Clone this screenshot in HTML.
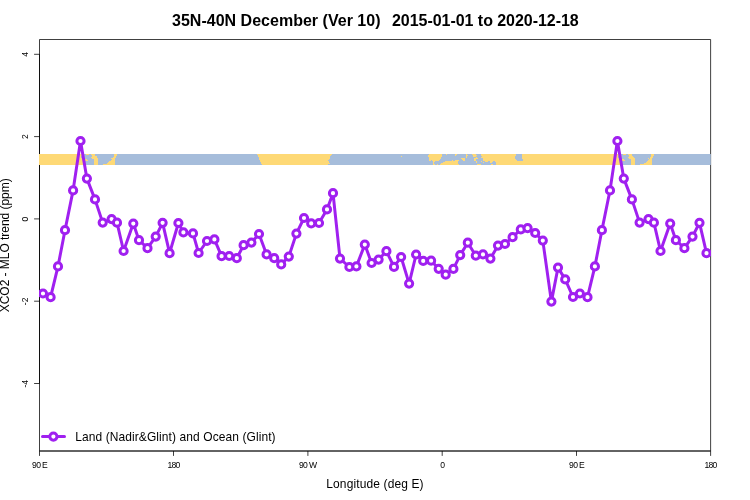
<!DOCTYPE html>
<html lang="en"><head><meta charset="utf-8"><title>35N-40N December (Ver 10)</title>
<style>html,body{margin:0;padding:0;background:#fff;overflow:hidden}svg{display:block}svg{will-change:transform}text{font-family:"Liberation Sans",Arial,Helvetica,sans-serif;fill:#000}</style></head><body>
<svg width="750" height="500" viewBox="0 0 750 500">
<defs><clipPath id="plt"><rect x="39" y="39" width="672" height="412.5"/></clipPath></defs>
<rect width="750" height="500" fill="#fff"/>
<text y="26" font-size="16" font-weight="bold" xml:space="preserve"><tspan x="172" style="letter-spacing:0.016px">35N-40N December (Ver 10)</tspan><tspan x="378.6" font-size="15.5">   </tspan><tspan x="392" style="letter-spacing:-0.041px">2015-01-01 to 2020-12-18</tspan></text>
<text transform="translate(375,487.8) scale(1,1.07)" text-anchor="middle" font-size="12" style="letter-spacing:0.129px">Longitude (deg E)</text>
<text transform="translate(8.8,245.3) rotate(-90) scale(1,1.07)" text-anchor="middle" font-size="12" style="letter-spacing:-0.027px">XCO2 - MLO trend (ppm)</text>
<g stroke="#000" stroke-width="0.75" fill="none">
<path d="M39.5 39.5H710.62V451H39.5Z"/>
<path d="M39.5 451H710.62"/>
<path d="M39.50 451V455.9"/>
<path d="M173.50 451V455.9"/>
<path d="M307.90 451V455.9"/>
<path d="M442.20 451V455.9"/>
<path d="M576.50 451V455.9"/>
<path d="M710.62 451V455.9"/>
<path d="M39.5 383.50V54.30"/>
<path d="M34.1 54.30H39.5"/>
<path d="M34.1 136.60H39.5"/>
<path d="M34.1 218.90H39.5"/>
<path d="M34.1 301.20H39.5"/>
<path d="M34.1 383.50H39.5"/>
</g>
<text x="32.00" y="468.4" font-size="8.6" style="letter-spacing:-0.65px">90 E</text>
<text x="167.50" y="468.4" font-size="8.6" style="letter-spacing:-0.78px">180</text>
<text x="298.90" y="468.4" font-size="8.6" style="letter-spacing:-0.65px">90 W</text>
<text x="440.20" y="468.4" font-size="8.6">0</text>
<text x="569.00" y="468.4" font-size="8.6" style="letter-spacing:-0.65px">90 E</text>
<text x="704.62" y="468.4" font-size="8.6" style="letter-spacing:-0.78px">180</text>
<text transform="translate(28,54.30) rotate(-90)" x="-2.5" font-size="8.6">4</text>
<text transform="translate(28,136.60) rotate(-90)" x="-2.5" font-size="8.6">2</text>
<text transform="translate(28,218.90) rotate(-90)" x="-2.5" font-size="8.6">0</text>
<text transform="translate(28,301.20) rotate(-90)" x="-4.0" font-size="8.6">-2</text>
<text transform="translate(28,383.50) rotate(-90)" x="-4.0" font-size="8.6">-4</text>
<g shape-rendering="crispEdges">
<rect x="39" y="154" width="671.8" height="11" fill="#A6BDDB" shape-rendering="auto"/>
<g fill="#FED976"><polygon points="86.0,154.0 88.9,154.0 88.9,154.9 86.0,154.9"/><polygon points="91.1,154.0 95.1,154.0 95.1,155.2 96.1,156.0 97.2,157.3 98.0,158.7 98.0,165.0 94.0,165.0 94.0,158.7 91.9,158.7 91.9,157.6 91.1,157.6 91.1,156.8 91.9,156.8 91.9,154.9 91.1,154.9"/><polygon points="83.6,158.7 86.5,158.9 87.9,160.0 87.9,161.1 84.1,161.1"/><rect x="114" y="154" width="3" height="1"/><rect x="114" y="155" width="3" height="1"/><rect x="114" y="156" width="2" height="1"/><rect x="113" y="157" width="3" height="1"/><rect x="111" y="158" width="4" height="1"/><rect x="112" y="159" width="3" height="1"/><rect x="111" y="160" width="4" height="1"/><rect x="109" y="161" width="6" height="1"/><rect x="108" y="162" width="7" height="1"/><rect x="107" y="163" width="8" height="1"/><rect x="103" y="164" width="12" height="1"/><polygon points="622.9,154.0 625.8,154.0 625.8,154.9 622.9,154.9"/><polygon points="627.9,154.0 631.9,154.0 631.9,155.2 633.0,156.0 634.1,157.3 634.9,158.7 634.9,165.0 630.9,165.0 630.9,158.7 628.7,158.7 628.7,157.6 627.9,157.6 627.9,156.8 628.7,156.8 628.7,154.9 627.9,154.9"/><polygon points="620.5,158.7 623.4,158.9 624.7,160.0 624.7,161.1 621.0,161.1"/><rect x="651" y="154" width="3" height="1"/><rect x="651" y="155" width="3" height="1"/><rect x="651" y="156" width="2" height="1"/><rect x="650" y="157" width="3" height="1"/><rect x="648" y="158" width="1" height="1"/><rect x="650" y="158" width="2" height="1"/><rect x="649" y="159" width="3" height="1"/><rect x="648" y="160" width="4" height="1"/><rect x="647" y="161" width="5" height="1"/><rect x="646" y="162" width="6" height="1"/><rect x="644" y="163" width="8" height="1"/><rect x="640" y="164" width="12" height="1"/><polygon points="39,154 83,154 84.8,165 39,165"/><polygon points="256.9,154.0 258.0,155.2 258.0,156.8 258.8,157.3 259.1,160.0 259.9,160.5 260.1,162.1 260.9,162.7 261.2,164.0 262.0,165.0 328.1,165.0 328.1,164.0 330.0,163.7 330.0,162.9 328.9,162.7 328.9,161.3 328.1,160.8 328.1,160.0 329.2,158.9 330.0,157.9 330.3,156.0 331.1,154.9 332.1,154.0"/><rect x="401" y="155.8" width="1" height="1"/><polygon points="428.8,154.0 442.1,154.0 442.1,156.9 441.2,156.9 441.2,158.9 440.2,158.9 440.2,159.9 439.2,159.9 439.2,160.9 435.2,161.1 434.1,162.1 434.1,163.5 435.2,164.0 435.2,165.0 433.1,165.0 433.1,161.3 432.0,160.8 431.5,160.0 430.9,160.8 429.1,160.8 428.8,157.1 428.0,156.5 428.0,155.2 428.8,154.9"/><rect x="437" y="164" width="1" height="1"/><polygon points="440.0,165.0 441.1,163.5 442.9,162.9 443.7,161.9 444.8,161.6 445.3,161.0 451.7,160.8 452.0,160.0 453.1,160.0 453.3,160.8 454.7,160.5 455.5,160.0 458.7,160.0 458.9,160.8 458.1,161.3 458.1,163.5 458.9,164.3 458.9,165.0"/><polygon points="445.9,154.0 446.9,154.0 446.9,154.9 445.9,154.9"/><polygon points="455.0,154.0 457.1,154.0 457.1,154.7 456.1,155.2 455.5,156.0 455.0,156.0"/><polygon points="454.7,160.0 459.0,160.0 459.0,161.1 458.2,161.6 458.2,163.7 459.0,164.0 459.0,165.0 454.7,165.0"/><polygon points="460.9,158.0 465.1,158.0 465.1,160.8 463.0,160.8 463.0,160.0 461.9,159.2 460.9,158.7"/><polygon points="465.9,154.0 467.0,154.0 467.0,154.9 468.1,155.2 468.1,156.0 467.0,156.3 467.0,157.9 465.9,157.9"/><polygon points="472.1,154.0 476.1,154.0 476.1,154.9 476.9,155.2 476.9,156.0 476.1,156.3 475.8,156.9 473.1,156.9 473.1,155.2 472.1,154.7"/><polygon points="474.2,158.1 476.1,158.0 476.3,157.1 477.1,157.6 477.9,158.3 477.1,159.2 476.1,159.7 475.3,160.8 474.2,160.8"/><polygon points="476.1,161.1 477.0,161.1 477.0,162.9 476.1,162.9"/><polygon points="477.1,164.0 480.9,164.0 480.9,165.0 477.1,165.0"/><polygon points="480.9,154.0 480.9,155.7 482.2,156.0 481.9,156.8 480.9,157.1 480.9,157.6 481.9,157.9 482.7,158.7 483.0,160.8 484.9,161.1 485.1,161.9 487.5,161.9 488.1,161.1 489.7,161.1 490.2,162.9 492.3,162.7 493.1,161.3 490.0,163.2 492.1,162.9 492.9,161.3 494.8,161.1 495.1,162.1 495.9,162.4 495.9,165.0 621.6,165.0 619.9,154.0"/><polygon points="480.9,161.1 481.9,161.1 481.9,162.1 480.9,162.1"/><polygon points="483.0,161.9 484.1,161.9 484.1,162.9 483.0,162.9"/><polygon points="491.0,164.0 492.9,164.0 492.9,165.0 491.0,165.0"/></g>
<g fill="#A6BDDB"><polygon points="516.1,154.0 522.0,154.0 522.0,158.7 522.8,159.2 522.8,160.8 517.2,160.8 516.9,160.0 516.1,159.2 515.3,158.7 515.1,156.5 516.1,156.0"/><rect x="81.4" y="156" width="0.9" height="1.6"/><rect x="618.2" y="156" width="0.9" height="1.6"/></g>
</g>
<g clip-path="url(#plt)">
<polyline fill="none" stroke="#A020F0" stroke-width="3" stroke-linejoin="round" stroke-linecap="round" points="43.0,293.5 50.6,297.2 58.0,266.4 65.0,230.2 73.1,190.4 80.5,141.0 86.9,178.6 95.0,199.4 102.7,222.6 111.6,219.1 117.0,222.7 123.6,251.0 133.3,223.6 139.0,240.2 147.5,248.2 155.7,236.6 162.6,222.8 169.6,253.2 178.4,223.0 183.4,232.4 193.0,233.4 198.6,253.0 207.0,241.0 214.4,239.4 221.6,256.2 229.2,256.0 236.8,258.2 243.6,245.2 251.4,242.6 259.0,234.0 266.6,254.4 274.2,258.2 281.2,264.4 288.8,256.6 296.4,233.6 304.0,218.0 311.2,223.4 319.0,223.0 327.0,209.4 333.0,193.2 340.0,258.6 349.4,267.0 356.4,266.4 364.8,244.6 371.6,263.0 378.6,259.6 386.4,251.2 394.0,266.9 401.1,257.0 409.1,283.6 416.1,254.5 423.2,260.9 431.1,260.7 438.7,268.8 445.7,274.7 453.4,268.9 460.2,255.1 467.8,242.7 475.8,255.7 483.0,254.4 490.4,258.6 498.0,245.6 505.0,244.0 512.6,237.2 520.8,229.4 527.6,228.2 535.2,233.0 542.8,240.6 551.4,301.6 558.0,267.6 565.2,279.4 573.0,297.0 579.9,293.5 587.5,297.2 594.9,266.4 601.9,230.2 610.0,190.4 617.4,141.0 623.8,178.6 631.9,199.4 639.6,222.6 648.5,219.1 653.9,222.7 660.5,251.0 670.2,223.6 675.9,240.2 684.4,248.2 692.5,236.6 699.5,222.8 706.5,253.2"/>
<g fill="#fff" stroke="#A020F0" stroke-width="3">
<circle cx="43.0" cy="293.5" r="3.6"/>
<circle cx="50.6" cy="297.2" r="3.6"/>
<circle cx="58.0" cy="266.4" r="3.6"/>
<circle cx="65.0" cy="230.2" r="3.6"/>
<circle cx="73.1" cy="190.4" r="3.6"/>
<circle cx="80.5" cy="141.0" r="3.6"/>
<circle cx="86.9" cy="178.6" r="3.6"/>
<circle cx="95.0" cy="199.4" r="3.6"/>
<circle cx="102.7" cy="222.6" r="3.6"/>
<circle cx="111.6" cy="219.1" r="3.6"/>
<circle cx="117.0" cy="222.7" r="3.6"/>
<circle cx="123.6" cy="251.0" r="3.6"/>
<circle cx="133.3" cy="223.6" r="3.6"/>
<circle cx="139.0" cy="240.2" r="3.6"/>
<circle cx="147.5" cy="248.2" r="3.6"/>
<circle cx="155.7" cy="236.6" r="3.6"/>
<circle cx="162.6" cy="222.8" r="3.6"/>
<circle cx="169.6" cy="253.2" r="3.6"/>
<circle cx="178.4" cy="223.0" r="3.6"/>
<circle cx="183.4" cy="232.4" r="3.6"/>
<circle cx="193.0" cy="233.4" r="3.6"/>
<circle cx="198.6" cy="253.0" r="3.6"/>
<circle cx="207.0" cy="241.0" r="3.6"/>
<circle cx="214.4" cy="239.4" r="3.6"/>
<circle cx="221.6" cy="256.2" r="3.6"/>
<circle cx="229.2" cy="256.0" r="3.6"/>
<circle cx="236.8" cy="258.2" r="3.6"/>
<circle cx="243.6" cy="245.2" r="3.6"/>
<circle cx="251.4" cy="242.6" r="3.6"/>
<circle cx="259.0" cy="234.0" r="3.6"/>
<circle cx="266.6" cy="254.4" r="3.6"/>
<circle cx="274.2" cy="258.2" r="3.6"/>
<circle cx="281.2" cy="264.4" r="3.6"/>
<circle cx="288.8" cy="256.6" r="3.6"/>
<circle cx="296.4" cy="233.6" r="3.6"/>
<circle cx="304.0" cy="218.0" r="3.6"/>
<circle cx="311.2" cy="223.4" r="3.6"/>
<circle cx="319.0" cy="223.0" r="3.6"/>
<circle cx="327.0" cy="209.4" r="3.6"/>
<circle cx="333.0" cy="193.2" r="3.6"/>
<circle cx="340.0" cy="258.6" r="3.6"/>
<circle cx="349.4" cy="267.0" r="3.6"/>
<circle cx="356.4" cy="266.4" r="3.6"/>
<circle cx="364.8" cy="244.6" r="3.6"/>
<circle cx="371.6" cy="263.0" r="3.6"/>
<circle cx="378.6" cy="259.6" r="3.6"/>
<circle cx="386.4" cy="251.2" r="3.6"/>
<circle cx="394.0" cy="266.9" r="3.6"/>
<circle cx="401.1" cy="257.0" r="3.6"/>
<circle cx="409.1" cy="283.6" r="3.6"/>
<circle cx="416.1" cy="254.5" r="3.6"/>
<circle cx="423.2" cy="260.9" r="3.6"/>
<circle cx="431.1" cy="260.7" r="3.6"/>
<circle cx="438.7" cy="268.8" r="3.6"/>
<circle cx="445.7" cy="274.7" r="3.6"/>
<circle cx="453.4" cy="268.9" r="3.6"/>
<circle cx="460.2" cy="255.1" r="3.6"/>
<circle cx="467.8" cy="242.7" r="3.6"/>
<circle cx="475.8" cy="255.7" r="3.6"/>
<circle cx="483.0" cy="254.4" r="3.6"/>
<circle cx="490.4" cy="258.6" r="3.6"/>
<circle cx="498.0" cy="245.6" r="3.6"/>
<circle cx="505.0" cy="244.0" r="3.6"/>
<circle cx="512.6" cy="237.2" r="3.6"/>
<circle cx="520.8" cy="229.4" r="3.6"/>
<circle cx="527.6" cy="228.2" r="3.6"/>
<circle cx="535.2" cy="233.0" r="3.6"/>
<circle cx="542.8" cy="240.6" r="3.6"/>
<circle cx="551.4" cy="301.6" r="3.6"/>
<circle cx="558.0" cy="267.6" r="3.6"/>
<circle cx="565.2" cy="279.4" r="3.6"/>
<circle cx="573.0" cy="297.0" r="3.6"/>
<circle cx="579.9" cy="293.5" r="3.6"/>
<circle cx="587.5" cy="297.2" r="3.6"/>
<circle cx="594.9" cy="266.4" r="3.6"/>
<circle cx="601.9" cy="230.2" r="3.6"/>
<circle cx="610.0" cy="190.4" r="3.6"/>
<circle cx="617.4" cy="141.0" r="3.6"/>
<circle cx="623.8" cy="178.6" r="3.6"/>
<circle cx="631.9" cy="199.4" r="3.6"/>
<circle cx="639.6" cy="222.6" r="3.6"/>
<circle cx="648.5" cy="219.1" r="3.6"/>
<circle cx="653.9" cy="222.7" r="3.6"/>
<circle cx="660.5" cy="251.0" r="3.6"/>
<circle cx="670.2" cy="223.6" r="3.6"/>
<circle cx="675.9" cy="240.2" r="3.6"/>
<circle cx="684.4" cy="248.2" r="3.6"/>
<circle cx="692.5" cy="236.6" r="3.6"/>
<circle cx="699.5" cy="222.8" r="3.6"/>
<circle cx="706.5" cy="253.2" r="3.6"/>
</g></g>
<path d="M42.5 436.6H64.5" stroke="#A020F0" stroke-width="3" stroke-linecap="round" fill="none"/>
<circle cx="53.4" cy="436.6" r="3.6" fill="#fff" stroke="#A020F0" stroke-width="3"/>
<text transform="translate(75.2,441) scale(1,1.07)" font-size="12" style="letter-spacing:0.094px">Land (Nadir&amp;Glint) and Ocean (Glint)</text>
</svg></body></html>
